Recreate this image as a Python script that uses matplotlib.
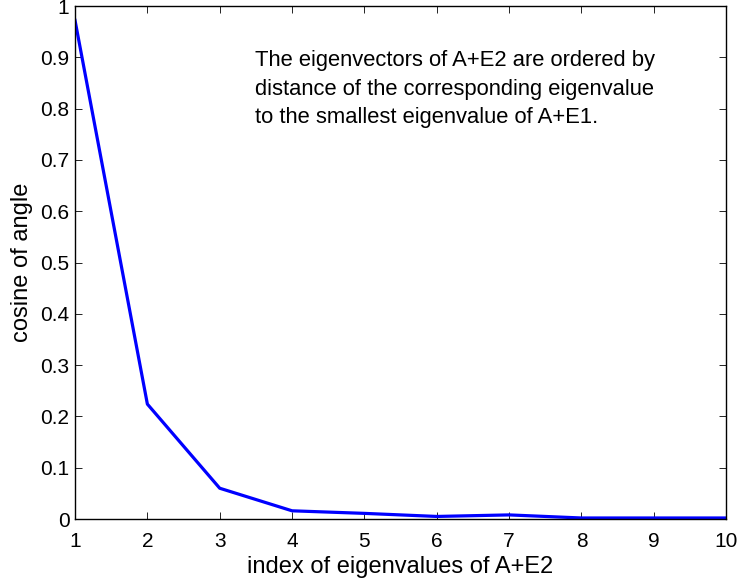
import numpy as np
import matplotlib.pyplot as plt

plt.rcParams['font.family'] = ['Liberation Sans', 'DejaVu Sans']

# cosine of angle per eigenvalue index
idx = [1, 2, 3, 4, 5, 6, 7, 8, 9, 10]
cosang = [0.972, 0.224, 0.060, 0.016, 0.011, 0.005, 0.008, 0.002, 0.002, 0.002]

yticks = [0, 0.1, 0.2, 0.3, 0.4, 0.5, 0.6, 0.7, 0.8, 0.9, 1]
ytlabels = ['0', '0.1', '0.2', '0.3', '0.4', '0.5', '0.6', '0.7', '0.8', '0.9', '1']

fig = plt.figure(figsize=(7.37, 5.79), dpi=100)
ax = fig.add_axes([0.1018, 0.1036, 0.8835, 0.886])
ax.plot(idx, cosang, color=(0, 0, 1), linewidth=2.3)

ax.set_xlim(1, 10)
ax.set_ylim(0, 1)
ax.set_xticks(idx)
ax.set_yticks(yticks)
ax.set_yticklabels(ytlabels)
ax.tick_params(direction='in', top=True, right=True, labelsize=15, length=5, width=0.6)
ax.tick_params(axis='x', pad=9)
ax.tick_params(axis='y', pad=4)
for sp in ax.spines.values():
    sp.set_linewidth(1.0)

ax.set_xlabel('index of eigenvalues of A+E2', fontsize=17, labelpad=4)
ax.set_ylabel('cosine of angle', fontsize=17, labelpad=5)

ax.text(0.2765, 0.914,
        'The eigenvectors of A+E2 are ordered by\n'
        'distance of the corresponding eigenvalue\n'
        'to the smallest eigenvalue of A+E1.',
        transform=ax.transAxes, fontsize=15.8, va='top', ha='left', linespacing=1.48)

fig.savefig('out.png', dpi=100)
